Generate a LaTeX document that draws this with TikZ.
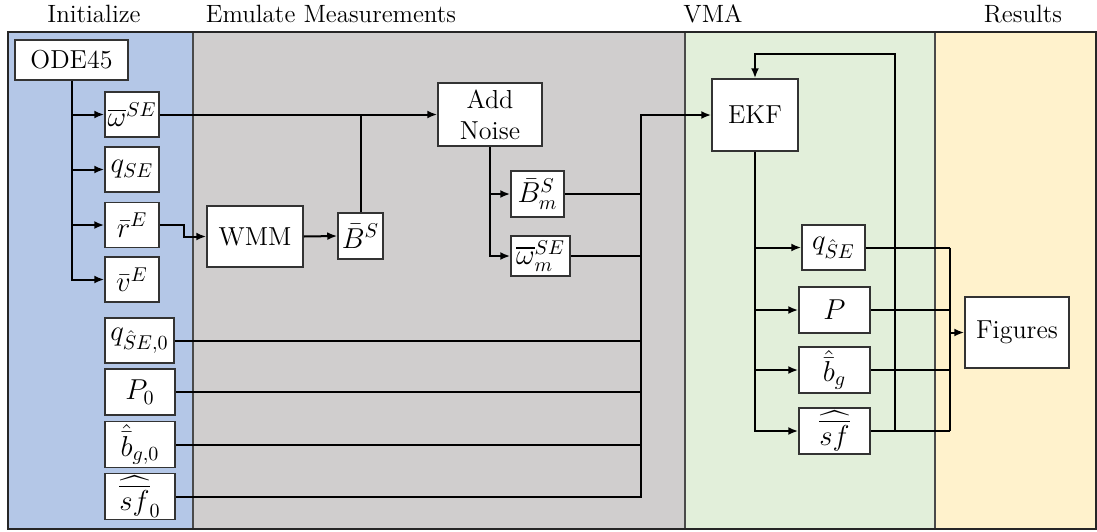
\documentclass[tikz,border=0pt]{standalone}
\usepackage{amsmath}
\usetikzlibrary{arrows.meta,calc}
\definecolor{initblue}{HTML}{B4C7E7}
\definecolor{emugray}{HTML}{D0CECE}
\definecolor{vmagreen}{HTML}{E2EFDA}
\definecolor{resyellow}{HTML}{FFF2CC}
\definecolor{edgegray}{HTML}{4A4A4A}
\begin{document}
\begin{tikzpicture}[x=0.5pt,y=-0.5pt,
  blk/.style={draw=black!80, line width=0.75pt, fill=white, inner sep=0pt,
    font=\fontsize{13}{15}\selectfont},
  mblk/.style={blk, font=\fontsize{14.5}{16}\selectfont},
  hdr/.style={font=\fontsize{12.5}{15}\selectfont, inner sep=0pt},
  wire/.style={line width=1pt, black},
  arr/.style={wire, -{Latex[length=5pt,width=4pt]}},
  panel/.style={draw=edgegray, line width=0.75pt}]
\useasboundingbox (0,0) rectangle (1097,531);

% panels
\path[panel, fill=initblue]  (8,32)   rectangle (193,529);
\path[panel, fill=emugray]   (193,32) rectangle (685,529);
\path[panel, fill=vmagreen]  (685,32) rectangle (935,529);
\path[panel, fill=resyellow] (935,32) rectangle (1096,529);
\draw[line width=1pt, black!85] (8,32) rectangle (1096,529);

% headers
\node[hdr] (hInit) at (94,14)  {Initialize};
\node[hdr] (hEmu)  at (331,14) {Emulate Measurements};
\node[hdr] (hVma)  at (713,14) {VMA};
\node[hdr] (hRes)  at (1023,14) {Results};

% initialize
\node[blk, minimum width=56.5pt, minimum height=20pt] (ode) at (71.5,60) {ODE45};
\node[mblk, minimum width=27pt, minimum height=22.5pt] (w)  at (132,114.5) {$\overline{\omega}^{SE}$};
\node[mblk, minimum width=27pt, minimum height=22.5pt] (q)  at (132,169.5) {$q_{SE}$};
\node[mblk, minimum width=27pt, minimum height=22.5pt] (r)  at (132,225)   {$\bar{r}^{E}$};
\node[mblk, minimum width=27pt, minimum height=22.5pt] (v)  at (132,279.5) {$\bar{v}^{E}$};
\node[mblk, minimum width=34.5pt, minimum height=22.5pt] (q0) at (139.5,340.5) {$q_{\hat{S}E,0}$};
\node[mblk, minimum width=35pt, minimum height=23pt] (p0)  at (140,392)   {$P_{0}$};
\node[mblk, minimum width=35pt, minimum height=23pt] (bg0) at (140,444.5) {$\hat{\bar{b}}_{g,0}$};
\node[mblk, minimum width=35pt, minimum height=23pt] (sf0) at (140,496.5) {$\widehat{\overline{sf}}_{0}$};

% emulate measurements
\node[blk, minimum width=48pt, minimum height=30.5pt] (wmm) at (255,236.5) {WMM};
\node[mblk, minimum width=22.5pt, minimum height=23pt] (bs) at (360.5,236) {$\bar{B}^{S}$};
\node[blk, minimum width=52pt, minimum height=31.5pt, align=center,
  font=\fontsize{13}{15.5}\selectfont] (noise) at (490,114.5) {Add\\Noise};
\node[mblk, minimum width=26.5pt, minimum height=23pt] (bm) at (537.5,194) {$\bar{B}^{S}_{m}$};
\node[mblk, minimum width=29.5pt, minimum height=20pt] (wm) at (540.5,256) {$\overline{\omega}^{SE}_{m}$};

% VMA
\node[blk, minimum width=43pt, minimum height=36pt] (ekf) at (755,115) {EKF};
\node[mblk, minimum width=31.5pt, minimum height=22.5pt] (qh) at (833.5,247.5) {$q_{\hat{S}E}$};
\node[mblk, minimum width=35.5pt, minimum height=23pt] (ph)  at (834.5,310) {$P$};
\node[mblk, minimum width=35.5pt, minimum height=23pt] (bgh) at (834.5,370) {$\hat{\bar{b}}_{g}$};
\node[mblk, minimum width=35.5pt, minimum height=23pt] (sfh) at (834.5,431) {$\widehat{\overline{sf}}$};

% results
\node[blk, minimum width=52pt, minimum height=35.5pt] (fig) at (1017,332.5) {Figures};

% helper coordinates for buses
\coordinate (busx) at (641,0);
\coordinate (busTop) at (ekf.west -| busx);
\coordinate (outx) at (950,0);
\coordinate (fbx) at (895,54);
\coordinate (fbTop) at (ekf.north |- fbx);

% ODE45 outputs
\foreach \t in {w,q,r,v} \draw[arr] (ode.south) |- (\t.west);

% magnetic field model
\draw[arr] (r.east) -- ++(24,0) |- (wmm.west);
\draw[arr] (wmm.east) -- (bs.west);
\draw[wire] (bs.north) -- (bs.north |- w.east);
\draw[arr] (w.east) -- (noise.west);

% noisy measurements
\draw[arr] (noise.south) |- (bm.west);
\draw[arr] (noise.south) |- (wm.west);

% bus into the filter
\draw[arr] (sf0.east) -| (busTop) -- (ekf.west);
\foreach \t in {q0,p0,bg0,bm,wm} \draw[wire] (\t.east) -- (\t.east -| busx);

% filter outputs
\foreach \t in {qh,ph,bgh,sfh} \draw[arr] (ekf.south) |- (\t.west);
\foreach \t in {qh,ph,bgh,sfh} \draw[wire] (\t.east) -- (\t.east -| outx);
\draw[wire] (qh.east -| outx) -- (sfh.east -| outx);
\draw[arr] (fig.west -| outx) -- (fig.west);

% feedback to the filter
\draw[arr] (sfh.east -| fbx) -- (fbx) -- (fbTop) -- (ekf.north);
\end{tikzpicture}
\end{document}
